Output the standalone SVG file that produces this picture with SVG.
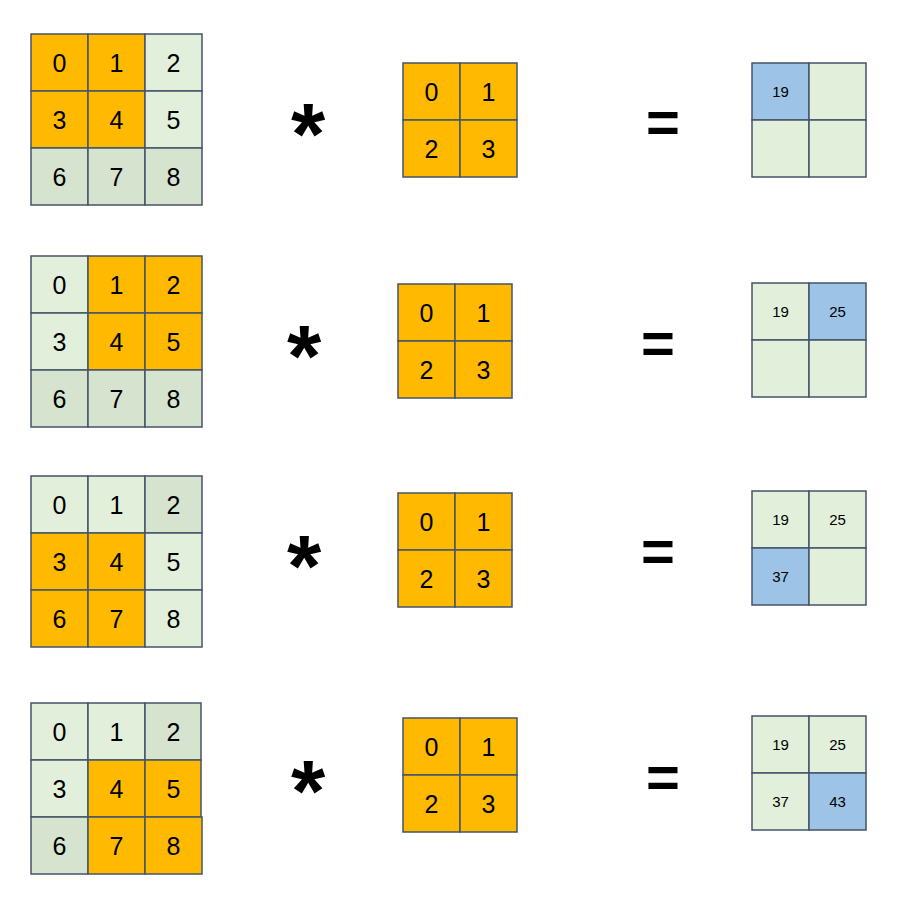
<svg xmlns="http://www.w3.org/2000/svg" width="919" height="904" viewBox="0 0 919 904">
<style>
.c{stroke:#44546A;stroke-width:1.5}
.o{fill:#FFBA00}
.l{fill:#E2EFDA}
.d{fill:#D5E3CF}
.b{fill:#9DC3E6}
.n{font-family:"Liberation Sans",Arial,sans-serif;font-size:25px;fill:#000;text-anchor:middle}
.s{font-family:"Liberation Sans",Arial,sans-serif;font-size:15px;fill:#000;text-anchor:middle}
.op{font-family:"Liberation Sans",Arial,sans-serif;font-weight:bold;fill:#000;text-anchor:middle}
</style>
<rect width="919" height="904" fill="#fff"/>

<!-- Row 1 -->
<g id="input1" transform="translate(31,34)">
<rect class="c o" x="0" y="0" width="57" height="57"/><rect class="c o" x="57" y="0" width="57" height="57"/><rect class="c l" x="114" y="0" width="57" height="57"/>
<rect class="c o" x="0" y="57" width="57" height="57"/><rect class="c o" x="57" y="57" width="57" height="57"/><rect class="c l" x="114" y="57" width="57" height="57"/>
<rect class="c d" x="0" y="114" width="57" height="57"/><rect class="c d" x="57" y="114" width="57" height="57"/><rect class="c d" x="114" y="114" width="57" height="57"/>
<text class="n" x="28.5" y="38">0</text><text class="n" x="85.5" y="38">1</text><text class="n" x="142.5" y="38">2</text>
<text class="n" x="28.5" y="95">3</text><text class="n" x="85.5" y="95">4</text><text class="n" x="142.5" y="95">5</text>
<text class="n" x="28.5" y="152">6</text><text class="n" x="85.5" y="152">7</text><text class="n" x="142.5" y="152">8</text>
</g>
<g id="star1"><text class="op" x="308" y="164" font-size="88">*</text></g>
<g id="kernel1" transform="translate(403,63)">
<rect class="c o" x="0" y="0" width="57" height="57"/><rect class="c o" x="57" y="0" width="57" height="57"/>
<rect class="c o" x="0" y="57" width="57" height="57"/><rect class="c o" x="57" y="57" width="57" height="57"/>
<text class="n" x="28.5" y="38">0</text><text class="n" x="85.5" y="38">1</text>
<text class="n" x="28.5" y="95">2</text><text class="n" x="85.5" y="95">3</text>
</g>
<g id="eq1"><text class="op" x="663" y="142" font-size="58">=</text></g>
<g id="output1" transform="translate(752,63)">
<rect class="c b" x="0" y="0" width="57" height="57"/><rect class="c l" x="57" y="0" width="57" height="57"/>
<rect class="c l" x="0" y="57" width="57" height="57"/><rect class="c l" x="57" y="57" width="57" height="57"/>
<text class="s" x="28.5" y="34">19</text>
</g>

<!-- Row 2 -->
<g id="input2" transform="translate(31,256)">
<rect class="c l" x="0" y="0" width="57" height="57"/><rect class="c o" x="57" y="0" width="57" height="57"/><rect class="c o" x="114" y="0" width="57" height="57"/>
<rect class="c l" x="0" y="57" width="57" height="57"/><rect class="c o" x="57" y="57" width="57" height="57"/><rect class="c o" x="114" y="57" width="57" height="57"/>
<rect class="c d" x="0" y="114" width="57" height="57"/><rect class="c d" x="57" y="114" width="57" height="57"/><rect class="c d" x="114" y="114" width="57" height="57"/>
<text class="n" x="28.5" y="38">0</text><text class="n" x="85.5" y="38">1</text><text class="n" x="142.5" y="38">2</text>
<text class="n" x="28.5" y="95">3</text><text class="n" x="85.5" y="95">4</text><text class="n" x="142.5" y="95">5</text>
<text class="n" x="28.5" y="152">6</text><text class="n" x="85.5" y="152">7</text><text class="n" x="142.5" y="152">8</text>
</g>
<g id="star2"><text class="op" x="304" y="386" font-size="88">*</text></g>
<g id="kernel2" transform="translate(398,284)">
<rect class="c o" x="0" y="0" width="57" height="57"/><rect class="c o" x="57" y="0" width="57" height="57"/>
<rect class="c o" x="0" y="57" width="57" height="57"/><rect class="c o" x="57" y="57" width="57" height="57"/>
<text class="n" x="28.5" y="38">0</text><text class="n" x="85.5" y="38">1</text>
<text class="n" x="28.5" y="95">2</text><text class="n" x="85.5" y="95">3</text>
</g>
<g id="eq2"><text class="op" x="658" y="363" font-size="58">=</text></g>
<g id="output2" transform="translate(752,283)">
<rect class="c l" x="0" y="0" width="57" height="57"/><rect class="c b" x="57" y="0" width="57" height="57"/>
<rect class="c l" x="0" y="57" width="57" height="57"/><rect class="c l" x="57" y="57" width="57" height="57"/>
<text class="s" x="28.5" y="34">19</text><text class="s" x="85.5" y="34">25</text>
</g>

<!-- Row 3 -->
<g id="input3" transform="translate(31,476)">
<rect class="c l" x="0" y="0" width="57" height="57"/><rect class="c l" x="57" y="0" width="57" height="57"/><rect class="c d" x="114" y="0" width="57" height="57"/>
<rect class="c o" x="0" y="57" width="57" height="57"/><rect class="c o" x="57" y="57" width="57" height="57"/><rect class="c l" x="114" y="57" width="57" height="57"/>
<rect class="c o" x="0" y="114" width="57" height="57"/><rect class="c o" x="57" y="114" width="57" height="57"/><rect class="c l" x="114" y="114" width="57" height="57"/>
<text class="n" x="28.5" y="38">0</text><text class="n" x="85.5" y="38">1</text><text class="n" x="142.5" y="38">2</text>
<text class="n" x="28.5" y="95">3</text><text class="n" x="85.5" y="95">4</text><text class="n" x="142.5" y="95">5</text>
<text class="n" x="28.5" y="152">6</text><text class="n" x="85.5" y="152">7</text><text class="n" x="142.5" y="152">8</text>
</g>
<g id="star3"><text class="op" x="304" y="596" font-size="88">*</text></g>
<g id="kernel3" transform="translate(398,493)">
<rect class="c o" x="0" y="0" width="57" height="57"/><rect class="c o" x="57" y="0" width="57" height="57"/>
<rect class="c o" x="0" y="57" width="57" height="57"/><rect class="c o" x="57" y="57" width="57" height="57"/>
<text class="n" x="28.5" y="38">0</text><text class="n" x="85.5" y="38">1</text>
<text class="n" x="28.5" y="95">2</text><text class="n" x="85.5" y="95">3</text>
</g>
<g id="eq3"><text class="op" x="658" y="571" font-size="58">=</text></g>
<g id="output3" transform="translate(752,491)">
<rect class="c l" x="0" y="0" width="57" height="57"/><rect class="c l" x="57" y="0" width="57" height="57"/>
<rect class="c b" x="0" y="57" width="57" height="57"/><rect class="c l" x="57" y="57" width="57" height="57"/>
<text class="s" x="28.5" y="34">19</text><text class="s" x="85.5" y="34">25</text>
<text class="s" x="28.5" y="91">37</text>
</g>

<!-- Row 4 -->
<g id="input4" transform="translate(31,703)">
<rect class="c l" x="0" y="0" width="57" height="57"/><rect class="c l" x="57" y="0" width="57" height="57"/><rect class="c d" x="114" y="0" width="56" height="57"/>
<rect class="c l" x="0" y="57" width="57" height="57"/><rect class="c o" x="57" y="57" width="57" height="57"/><rect class="c o" x="114" y="57" width="56" height="57"/>
<rect class="c d" x="0" y="114" width="57" height="57"/><rect class="c o" x="57" y="114" width="57" height="57"/><rect class="c o" x="114" y="114" width="57" height="57"/>
<text class="n" x="28.5" y="38">0</text><text class="n" x="85.5" y="38">1</text><text class="n" x="142.5" y="38">2</text>
<text class="n" x="28.5" y="95">3</text><text class="n" x="85.5" y="95">4</text><text class="n" x="142.5" y="95">5</text>
<text class="n" x="28.5" y="152">6</text><text class="n" x="85.5" y="152">7</text><text class="n" x="142.5" y="152">8</text>
</g>
<g id="star4"><text class="op" x="308" y="821" font-size="88">*</text></g>
<g id="kernel4" transform="translate(403,718)">
<rect class="c o" x="0" y="0" width="57" height="57"/><rect class="c o" x="57" y="0" width="57" height="57"/>
<rect class="c o" x="0" y="57" width="57" height="57"/><rect class="c o" x="57" y="57" width="57" height="57"/>
<text class="n" x="28.5" y="38">0</text><text class="n" x="85.5" y="38">1</text>
<text class="n" x="28.5" y="95">2</text><text class="n" x="85.5" y="95">3</text>
</g>
<g id="eq4"><text class="op" x="663" y="797" font-size="58">=</text></g>
<g id="output4" transform="translate(752,716)">
<rect class="c l" x="0" y="0" width="57" height="57"/><rect class="c l" x="57" y="0" width="57" height="57"/>
<rect class="c l" x="0" y="57" width="57" height="57"/><rect class="c b" x="57" y="57" width="57" height="57"/>
<text class="s" x="28.5" y="34">19</text><text class="s" x="85.5" y="34">25</text>
<text class="s" x="28.5" y="91">37</text><text class="s" x="85.5" y="91">43</text>
</g>
</svg>
